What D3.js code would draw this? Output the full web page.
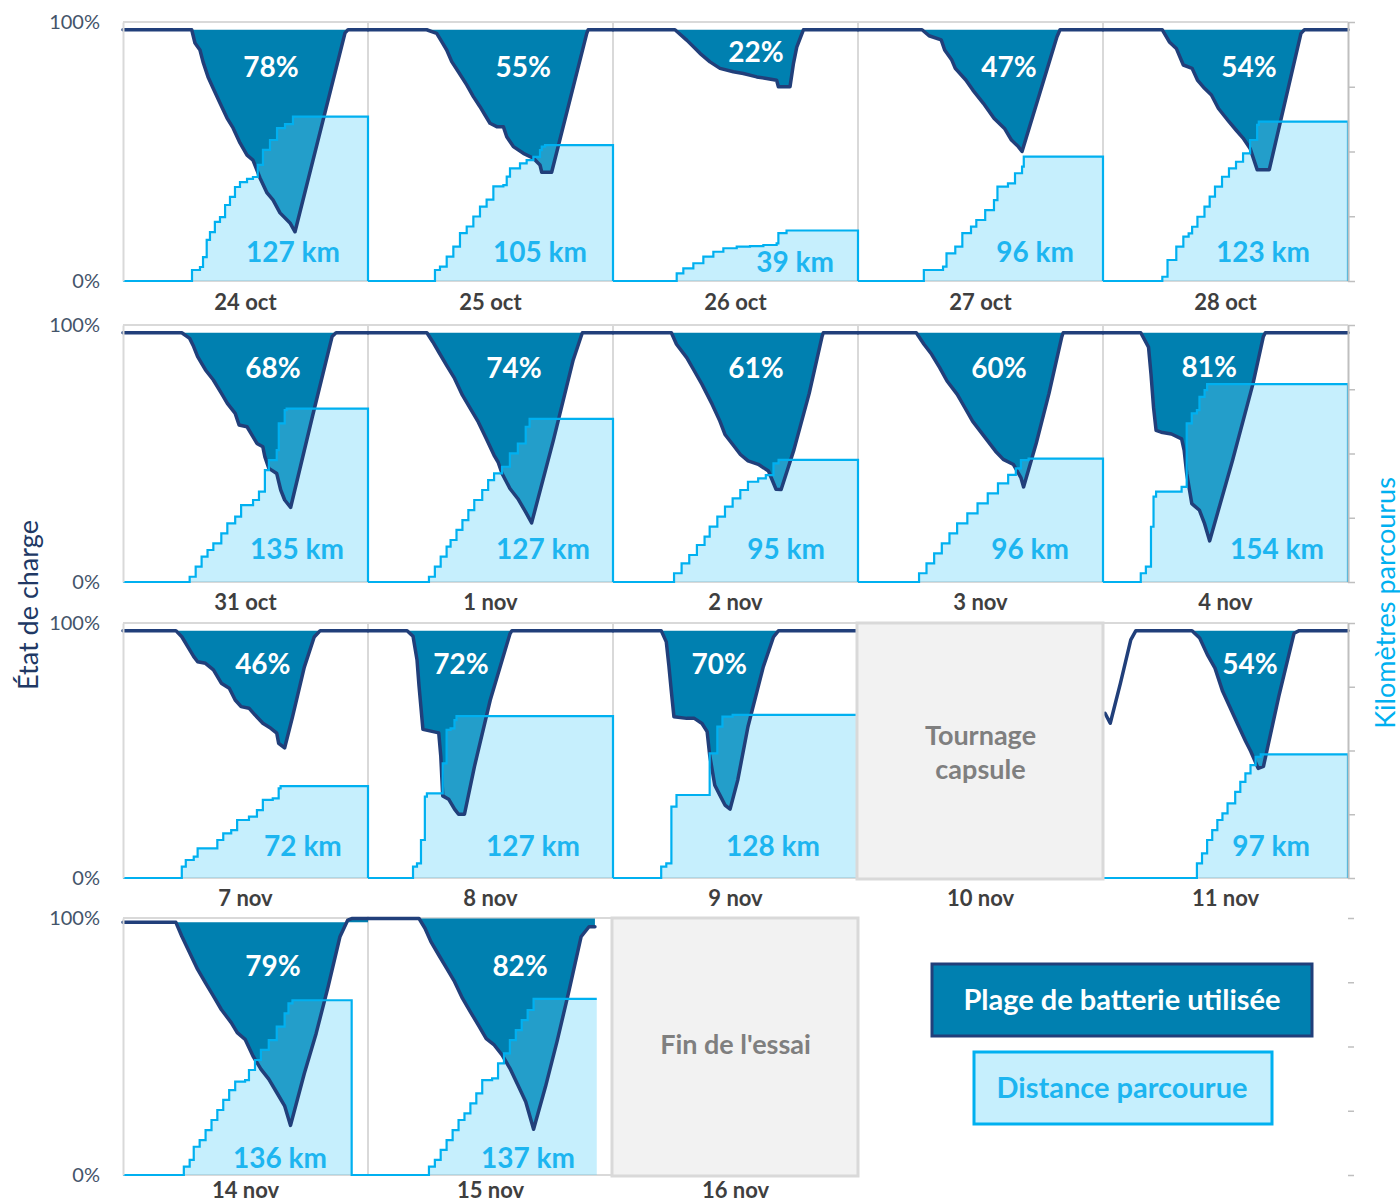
<!DOCTYPE html>
<html>
<head>
<meta charset="utf-8">
<script src="https://cdn.jsdelivr.net/npm/d3@7"></script>
<style>
  html, body { margin: 0; padding: 0; background: #fff; }
  svg { display: block; font-family: Lato, "Open Sans", sans-serif; }
</style>
</head>
<body>
<svg id="chart" width="1400" height="1204"></svg>
<script>
// ---- Data -------------------------------------------------------------
// One entry per test day; times are hours of the day (0-24).
const dayLabels = ['24 oct', '25 oct', '26 oct', '27 oct', '28 oct',
                   '31 oct', '1 nov', '2 nov', '3 nov', '4 nov',
                   '7 nov', '8 nov', '9 nov', '11 nov',
                   '14 nov', '15 nov'];

// Share of the battery used during the day's drive (%)
const batteryUsedPct = [78, 55, 22, 47, 54, 68, 74, 61, 60, 81, 46, 72, 70, 54, 79, 82];

// Distance driven during the day (km)
const distanceKm = [127, 105, 39, 96, 123, 135, 127, 95, 96, 154, 72, 127, 128, 97, 136, 137];

// State of charge through the day: [hour, %]
const stateOfCharge = [
  [[0,97],[6.73,97],[7.05,91.9],[7.54,89.2],[7.84,84.6],[8.33,78.8],[8.82,74.5],[9.5,68.7],[10.19,62.9],[10.78,59.1],[11.46,53.3],[12.15,48.6],[12.73,46.7],[13.42,39.8],[14.11,34],[14.69,31.3],[15.38,26.3],[16.36,22.4],[16.85,19],[21.75,95.8],[22.04,97],[24,97]],
  [[0,97],[5.75,97],[6.73,95.6],[7.22,92.4],[7.71,89.2],[8.2,84.7],[8.85,80.8],[9.67,75.7],[10.32,71.2],[10.97,67.3],[11.46,64.1],[11.95,60.9],[12.61,59.6],[13.26,59.6],[13.59,55.7],[14.24,51.9],[15.22,49.3],[16.2,47.4],[16.85,44.8],[17.02,42],[17.99,42],[21.43,95.6],[21.56,97],[24,97]],
  [[0,97],[6.07,97],[7.22,93],[8.52,87.9],[9.5,84.6],[10.48,82.1],[11.79,80.8],[12.77,80.1],[14.08,78.8],[15.05,78.2],[16.03,77.5],[16.2,75],[17.34,75],[17.67,83.8],[18,90.3],[18.65,97],[24,97]],
  [[0,97],[6.27,97],[6.96,94.7],[8.15,93.1],[8.49,89.2],[9.19,85.3],[9.53,82.1],[10.56,77.6],[11.25,73.7],[12.28,68.6],[13.32,62.8],[14.35,58.9],[15.03,54.4],[15.72,51.8],[16.07,50],[19.49,94.3],[19.79,97],[24,97]],
  [[0,97],[5.81,97],[6.5,92.3],[7.18,89.8],[7.87,83.4],[8.73,82.1],[9.25,77.6],[9.94,74.4],[10.62,71.8],[11.31,66.6],[12.34,61.5],[13.03,58.3],[13.72,55.2],[14.41,51.2],[15.1,43],[16.29,43],[19.39,95.6],[19.73,97],[24,97]],
  [[0,97],[5.76,97],[6.53,94.8],[6.92,91.6],[7.31,87.7],[8.08,82.5],[8.85,78.6],[9.63,73.5],[10.22,69.5],[10.99,65.6],[11.37,61.1],[12.15,60.4],[12.74,56.5],[13.12,53.9],[13.7,52.6],[13.9,48.7],[14.29,44.2],[15.06,42.2],[15.45,35.8],[15.84,31.9],[16.42,29],[18.55,64.3],[20.48,95.5],[20.87,97],[24,97]],
  [[0,97],[5.77,97],[6.35,93.4],[6.93,89.5],[7.7,84.3],[8.48,79.2],[9.25,72.7],[10.03,67.5],[10.8,62.3],[11.58,55.8],[12.35,49.3],[12.74,46.7],[13.13,42.2],[13.9,36.4],[14.68,32.4],[15.45,27.2],[16.03,23],[18.17,55.3],[20.1,86.4],[20.87,95.5],[21,97],[24,97]],
  [[0,97],[5.72,97],[6.22,92.5],[7.22,87.3],[7.97,82.1],[8.72,76.9],[9.22,73],[9.72,69.1],[10.47,62.6],[10.97,57.4],[11.73,53.5],[12.48,49.6],[13.23,47.1],[14.23,45.8],[15.23,43.2],[15.97,36.1],[16.47,36],[17.72,51.4],[19.22,73.4],[20.47,95.4],[20.6,97],[24,97]],
  [[0,97],[5.71,97],[6.46,92.5],[7.21,88.6],[8,83.4],[8.72,78.2],[9.72,73],[10.47,67.8],[11.22,62.6],[11.97,58.7],[12.72,54.8],[13.47,50.9],[14.23,47.7],[15.23,45.7],[15.97,40.5],[16.22,37],[17.46,54],[18.71,73.4],[19.96,95.4],[20.1,97],[24,97]],
  [[0,97],[3.7,97],[4.46,91.4],[4.7,81],[4.95,68],[5.2,59],[5.7,58.3],[6.7,57.6],[7.7,55.7],[7.95,51.2],[8.2,42.2],[8.7,30.5],[9.45,27.9],[9.95,22.7],[10.45,16],[12.7,47.5],[14.7,77.3],[15.7,95.4],[15.9,97],[24,97]],
  [[0,97],[5.18,97],[5.76,94.6],[6.34,90.7],[6.93,86.8],[7.31,84.8],[8.08,84.2],[8.86,81.6],[9.63,76.4],[10.41,74.4],[10.99,69.8],[11.57,67.2],[12.34,66.6],[12.92,64],[13.7,60.7],[14.48,58.7],[15.06,56.8],[15.25,52.8],[15.83,51],[16.6,63.1],[17.76,82.7],[18.73,94.5],[19.32,97],[24,97]],
  [[0,97],[3.83,97],[4.41,94.8],[4.8,85.6],[5,75.2],[5.38,58.3],[6.16,57.6],[6.93,56.9],[7.13,47.8],[7.32,32.2],[7.9,30.9],[8.48,27],[8.87,25],[9.45,25],[10.42,43.6],[11.97,69.7],[13.91,95.8],[14.1,97],[24,97]],
  [[0,97],[4.72,97],[5.22,92.6],[5.47,83.4],[5.72,73],[5.97,63.2],[7.22,62.6],[7.97,62.6],[8.72,60.6],[9.22,57.4],[9.47,48.2],[9.97,36.4],[10.47,32.5],[10.97,28.6],[11.47,27],[12.22,38.4],[13.22,59.3],[14.72,82.8],[15.72,94.5],[16.22,97],[24,97]],
  [[0.2,64.6],[0.71,60.7],[1.71,76.4],[2.72,93.4],[3.22,97],[8.72,97],[9.47,94.1],[10.22,87.6],[10.97,82.3],[11.72,73.2],[12.47,66.7],[13.22,60.1],[13.97,53.6],[14.47,49.7],[15.2,43],[15.72,43.8],[17.22,71.2],[18.72,96],[19.22,97],[24,97]],
  [[0,98.3],[5.18,98.3],[5.76,92.9],[6.53,86.5],[7.31,80],[8.08,74.8],[8.86,69.6],[9.63,64.4],[10.6,59.3],[11.19,55.4],[11.96,52.8],[12.73,46.3],[13.51,41.2],[14.28,37.3],[15.06,32.1],[15.83,26.9],[16.41,19.3],[17.76,39.5],[18.92,55.1],[20.09,73.2],[21.25,92.7],[22.02,99.2],[22.4,99.8],[24,99.8]],
  [[0,99.8],[5,99.8],[5.58,96],[6.16,90.8],[6.93,85.6],[7.71,80.4],[8.48,75.2],[9.26,68.7],[10.03,63.5],[10.81,58.3],[11.58,53.1],[12.36,50.6],[13.13,46.7],[13.9,41.5],[14.68,35],[15.45,28.5],[16.22,17.8],[17.39,34.4],[18.55,52.5],[19.71,72],[20.87,92.7],[21.65,96.6],[22.23,96.6]]
];

// Cumulative kilometres through the day: [hour, km]
const kmDriven = [
  [[0,0],[6.76,8.5],[7.54,10.8],[7.84,18.5],[8.2,31.7],[8.52,37.8],[9,45.6],[9.5,49.4],[10,58.7],[10.48,64.9],[10.97,72.6],[11.46,76.4],[12.15,78.8],[12.73,80.3],[13.2,89.6],[13.71,101.2],[14.4,108.9],[15.09,118.1],[15.87,121.2],[16.65,127],[24,127],[24,0]],
  [[0,0],[6.56,8.5],[7.05,11.1],[7.71,18.9],[8.36,26.6],[9.01,36.9],[9.67,42.1],[10.32,49.8],[10.97,57.5],[11.62,62.8],[12.28,73],[13.26,74.1],[13.59,80.6],[13.91,87],[14.89,90.8],[15.54,93.4],[16.2,95.9],[16.85,101.1],[17.02,103.7],[17.34,105],[24,105],[24,0]],
  [[0,0],[6.24,5.9],[6.89,9.8],[7.87,13.7],[8.85,18.9],[9.83,22.6],[10.81,25.3],[12.12,26.5],[13.42,27],[14.73,27.8],[16.03,29.1],[16.2,36.9],[17,39],[24,39],[24,0]],
  [[0,0],[6.45,8.5],[8.33,11.1],[8.67,21.4],[9.53,26.6],[10.22,36.9],[11.07,42],[11.59,47.1],[12.46,54.8],[13.32,62.5],[13.66,72.8],[14.69,75.4],[15.38,83.2],[16.07,88.3],[16.24,96],[24,96],[24,0]],
  [[0,0],[5.81,3.3],[6.32,16.2],[7.18,26.5],[7.87,34.2],[8.39,36.8],[8.73,41.9],[9.25,49.6],[9.94,57.4],[10.45,65.1],[10.97,72.8],[11.66,80.5],[12.34,87],[13.03,92.1],[13.72,98.6],[14.41,108.9],[15.1,120.5],[15.26,123],[24,123],[24,0]],
  [[0,0],[6.53,4.1],[7.12,11.9],[7.7,19.7],[8.28,24.9],[8.85,30.1],[9.63,37.9],[10.22,45.7],[10.99,50.8],[11.57,59.9],[12.74,63.8],[13.32,70.3],[13.9,87.1],[14.29,94.9],[15.06,102.7],[15.26,123.4],[15.84,133.8],[16.03,135],[24,135],[24,0]],
  [[0,0],[5.97,4.1],[6.55,11.9],[7.12,19.7],[7.7,27.5],[8.09,32.7],[8.67,40.5],[9.25,48.2],[9.83,56],[10.41,63.8],[11.19,71.6],[11.77,79.3],[12.35,84.5],[13.13,89.7],[13.9,100.1],[14.68,107.8],[15.45,120.8],[15.83,127],[24,127],[24,0]],
  [[0,0],[5.98,6.8],[6.72,14.5],[7.47,21],[8.22,28.8],[8.97,35.3],[9.47,43.1],[10.22,50.8],[10.97,58.6],[11.72,65.1],[12.47,71.6],[13.22,78],[14.22,80.6],[14.97,83.2],[15.72,92.3],[16.22,95],[24,95],[24,0]],
  [[0,0],[5.98,6.8],[6.71,14.5],[7.46,22.3],[8.21,30.1],[8.96,37.9],[9.71,45.7],[10.71,53.4],[11.71,61.2],[12.71,69],[13.71,76.8],[14.71,83.3],[15.46,88.4],[15.96,94.9],[16.71,96],[24,96],[24,0]],
  [[0,0],[3.7,6.8],[4.2,11.9],[4.7,43],[4.95,66.4],[5.2,70.3],[7.7,74.1],[8.2,123.4],[8.7,131.2],[9.2,133.8],[9.45,144.1],[9.95,149.3],[10.2,154],[24,154],[24,0]],
  [[0,0],[5.76,8.9],[6.15,14.1],[6.93,16.7],[7.31,23.2],[9.05,23.2],[9.24,29.8],[9.82,35],[10.6,37.6],[11.18,45.5],[12.34,48.1],[13.12,53.3],[13.7,61.2],[14.67,62.5],[15.25,70.3],[15.44,72],[24,72],[24,0]],
  [[0,0],[4.41,8.9],[4.8,11.5],[5.19,29.8],[5.57,63.8],[5.77,66.4],[6.93,66.4],[7.32,89.9],[7.7,116.1],[8.09,117.4],[8.47,123.9],[8.67,127],[24,127],[24,0]],
  [[0,0],[4.72,8.9],[5.22,11.5],[5.72,56],[6.22,65.1],[8.97,65.1],[9.47,97.8],[10.22,118.7],[10.72,126.5],[11.72,128],[24,128],[24,0]],
  [[0,0],[9.2,11.5],[9.7,19.3],[10.2,29.8],[10.7,37.6],[11.2,45.5],[11.7,50.7],[12.2,58.5],[12.95,67.6],[13.45,75.4],[13.95,82],[14.45,88.5],[14.95,95],[15.45,97],[24,97],[24,0]],
  [[0,0],[5.96,6.5],[6.53,11.7],[6.93,22],[7.51,27.2],[8.09,35],[8.67,42.8],[9.24,50.6],[9.82,58.4],[10.4,66.1],[10.99,72.6],[11.96,73.9],[12.34,81.7],[12.93,89.5],[13.51,97.3],[14.28,105],[15.06,115.4],[15.83,125.8],[16.21,133.6],[16.6,136],[22.4,136],[22.4,0],[24,0]],
  [[0,0],[5.97,6.5],[6.55,11.7],[7.12,19.5],[7.7,27.2],[8.29,35],[8.87,42.8],[9.45,48],[10.03,55.8],[10.61,63.5],[11.19,73.9],[12.16,75.2],[12.74,86.9],[13.32,94.6],[13.9,105],[14.48,112.8],[15.06,120.6],[15.64,128.4],[16.22,137],[22.41,137]]
];

// Days without driving
const blankDays = ['10 nov', '16 nov'];
const blankNotes = [['Tournage', 'capsule'], ["Fin de l'essai"]];

const legendLabels = ['Plage de batterie utilisée', 'Distance parcourue'];
const socTicks = [0, 100];
const kmTicks = [0, 50, 100, 150, 200];

// ---- Layout -----------------------------------------------------------
const PANEL_W = 245;
const colLeft = [123, 368, 613, 858, 1103];
const rowTop = [22, 325, 623, 918];
const rowBottom = [281, 582, 878, 1175];
const dateGap = [21, 20, 20, 15];
const daySlot = [[0,0],[0,1],[0,2],[0,3],[0,4],
                 [1,0],[1,1],[1,2],[1,3],[1,4],
                 [2,0],[2,1],[2,2],[2,4],
                 [3,0],[3,1]];
const blankSlot = [[2,3],[3,2]];
// label anchors: [hour, % of charge] and [hour, km]
const pctLabelAt = [[14.5,82.5],[15.2,82.5],[14.0,88.4],[14.8,82.5],[14.3,82.6],
                    [14.7,83.3],[14.3,83.3],[14.0,83.3],[13.8,83.3],[10.4,83.7],
                    [13.7,83.9],[9.1,83.9],[10.4,83.9],[14.4,83.9],
                    [14.7,81.3],[14.9,81.3]];
const kmLabelAt = [[16.65,22.4],[16.85,22.4],[17.83,14.7],[17.34,22.4],[15.67,22.4],
                   [17.05,25.7],[17.14,25.7],[16.95,25.7],[16.85,25.7],[17.05,25.7],
                   [17.63,25.1],[16.16,25.1],[15.67,25.1],[16.46,25.1],
                   [15.38,13.2],[15.67,13.2]];

const C = {
  navy: '#213f7a', used: '#0080b0', distFill: 'rgba(97,211,250,0.36)',
  distLine: '#00b0f0', distText: '#1db5f0', grid: '#d9d9d9', axis: '#bfbfbf',
  date: '#3f3f3f', tick: '#44546a', blank: '#f2f2f2', blankText: '#7f7f7f'
};

const svg = d3.select('#chart');
const font = 'Lato, "Open Sans", sans-serif';

// ---- Grid frames ------------------------------------------------------
const grid = svg.append('g').attr('stroke', C.grid).attr('stroke-width', 2).attr('fill', 'none');
rowTop.forEach((top, r) => {
  const bottom = rowBottom[r];
  const nCols = r < 3 ? 5 : 2;
  const right = colLeft[0] + nCols * PANEL_W;
  grid.append('line').attr('x1', colLeft[0]).attr('x2', right).attr('y1', top).attr('y2', top);
  grid.append('line').attr('x1', colLeft[0]).attr('x2', right).attr('y1', bottom).attr('y2', bottom);
  for (let c = 1; c < nCols; c++) {
    grid.append('line').attr('x1', colLeft[c]).attr('x2', colLeft[c]).attr('y1', top).attr('y2', bottom);
  }
});

// ---- Day panels -------------------------------------------------------
dayLabels.forEach((label, i) => {
  const [r, c] = daySlot[i];
  const x = d3.scaleLinear().domain([0, 24]).range([colLeft[c], colLeft[c] + PANEL_W]);
  const yPct = d3.scaleLinear().domain([0, 100]).range([rowBottom[r], rowTop[r]]);
  const yKm = d3.scaleLinear().domain([0, 200]).range([rowBottom[r], rowTop[r]]);
  const soc = stateOfCharge[i];
  const km = kmDriven[i];
  const g = svg.append('g');

  // battery range used: from the full level before the drive down to the charge curve
  const lo = d3.minIndex(soc, d => d[1]);
  let a = lo; while (a > 0 && soc[a - 1][1] >= soc[a][1]) a--;
  let b = lo; while (b < soc.length - 1 && soc[b + 1][1] >= soc[b][1]) b++;
  const full = soc[a][1];
  g.append('path').datum(soc.slice(a, b + 1))
    .attr('d', d3.area().x(d => x(d[0])).y0(yPct(full)).y1(d => yPct(d[1])))
    .attr('fill', C.used);

  // distance area (translucent, so the used range shows through)
  g.append('path').datum(km)
    .attr('d', d3.area().curve(d3.curveStepAfter).x(d => x(d[0])).y0(yKm(0)).y1(d => yKm(d[1])))
    .attr('fill', C.distFill);

  g.append('path').datum(soc)
    .attr('d', d3.line().x(d => x(d[0])).y(d => yPct(d[1])))
    .attr('fill', 'none').attr('stroke', C.navy).attr('stroke-width', 3.5)
    .attr('stroke-linejoin', 'round').attr('stroke-linecap', 'round');

  g.append('path').datum(km)
    .attr('d', d3.line().curve(d3.curveStepAfter).x(d => x(d[0])).y(d => yKm(d[1])))
    .attr('fill', 'none').attr('stroke', C.distLine).attr('stroke-width', 2.2);

  g.append('text')
    .attr('x', x(pctLabelAt[i][0])).attr('y', yPct(pctLabelAt[i][1])).attr('dy', '0.36em')
    .attr('text-anchor', 'middle').attr('font-family', font).attr('font-weight', 700)
    .attr('font-size', 28).attr('fill', '#fff')
    .text(batteryUsedPct[i] + '%');

  g.append('text')
    .attr('x', x(kmLabelAt[i][0])).attr('y', yKm(kmLabelAt[i][1])).attr('dy', '0.36em')
    .attr('text-anchor', 'middle').attr('font-family', font).attr('font-weight', 700)
    .attr('font-size', 28).attr('fill', C.distText)
    .text(distanceKm[i] + ' km');

  svg.append('text')
    .attr('x', colLeft[c] + PANEL_W / 2).attr('y', rowBottom[r] + dateGap[r]).attr('dy', '0.36em')
    .attr('text-anchor', 'middle').attr('font-family', font).attr('font-weight', 700)
    .attr('font-size', 22).attr('fill', C.date)
    .text(label);
});

// ---- Days without data ------------------------------------------------
blankDays.forEach((label, k) => {
  const [r, c] = blankSlot[k];
  const x0 = colLeft[c], top = rowTop[r], bottom = rowBottom[r];
  svg.append('rect')
    .attr('x', x0 - 1).attr('y', top).attr('width', PANEL_W + 1).attr('height', bottom - top + 1)
    .attr('fill', C.blank).attr('stroke', C.grid).attr('stroke-width', 3);
  const lines = blankNotes[k];
  const cy = (top + bottom) / 2 + (k === 0 ? 2 : -2);
  lines.forEach((t, j) => {
    svg.append('text')
      .attr('x', x0 + PANEL_W / 2).attr('y', cy + (j - (lines.length - 1) / 2) * 34).attr('dy', '0.36em')
      .attr('text-anchor', 'middle').attr('font-family', font).attr('font-weight', 700)
      .attr('font-size', 27).attr('fill', C.blankText)
      .text(t);
  });
  svg.append('text')
    .attr('x', x0 + PANEL_W / 2).attr('y', bottom + dateGap[r]).attr('dy', '0.36em')
    .attr('text-anchor', 'middle').attr('font-family', font).attr('font-weight', 700)
    .attr('font-size', 22).attr('fill', C.date)
    .text(label);
});

// ---- Axes -------------------------------------------------------------
rowTop.forEach((top, r) => {
  const yPct = d3.scaleLinear().domain([0, 100]).range([rowBottom[r], top]);
  const yKm = d3.scaleLinear().domain([0, 200]).range([rowBottom[r], top]);

  const left = svg.append('g').attr('transform', `translate(${colLeft[0]},0)`)
    .call(d3.axisLeft(yPct).tickValues(socTicks).tickFormat(d => d + '%').tickSize(0).tickPadding(23));
  left.select('.domain').attr('stroke', C.grid).attr('stroke-width', 2);
  left.selectAll('text').attr('font-family', font).attr('font-size', 20).attr('fill', C.tick);

  const right = svg.append('g').attr('transform', `translate(${colLeft[4] + PANEL_W},0)`)
    .call(d3.axisRight(yKm).tickValues(kmTicks).tickFormat('').tickSize(r < 3 ? 7 : 6).tickSizeOuter(0));
  right.selectAll('line').attr('stroke', C.axis).attr('stroke-width', 1.5);
  if (r < 3) right.select('.domain').attr('stroke', C.axis).attr('stroke-width', 2);
  else right.select('.domain').remove();
});

svg.append('text')
  .attr('transform', 'translate(38,605) rotate(-90)')
  .attr('text-anchor', 'middle').attr('font-family', font).attr('font-size', 27)
  .attr('fill', '#203864').text('État de charge');

svg.append('text')
  .attr('transform', 'translate(1395,603) rotate(-90)')
  .attr('text-anchor', 'middle').attr('font-family', font).attr('font-size', 27)
  .attr('fill', C.distLine).text('Kilomètres parcourus');

// ---- Legend -----------------------------------------------------------
const legend = svg.append('g').attr('font-family', font).attr('font-weight', 700).attr('font-size', 29);
legend.append('rect').attr('x', 932).attr('y', 964).attr('width', 380).attr('height', 72)
  .attr('fill', C.used).attr('stroke', C.navy).attr('stroke-width', 3);
legend.append('text').attr('x', 1122).attr('y', 1000).attr('dy', '0.36em').attr('text-anchor', 'middle')
  .attr('fill', '#fff').text(legendLabels[0]);
legend.append('rect').attr('x', 974).attr('y', 1052).attr('width', 298).attr('height', 72)
  .attr('fill', '#c6effd').attr('stroke', C.distLine).attr('stroke-width', 3);
legend.append('text').attr('x', 1122).attr('y', 1088).attr('dy', '0.36em').attr('text-anchor', 'middle')
  .attr('fill', C.distText).text(legendLabels[1]);
</script>
</body>
</html>
